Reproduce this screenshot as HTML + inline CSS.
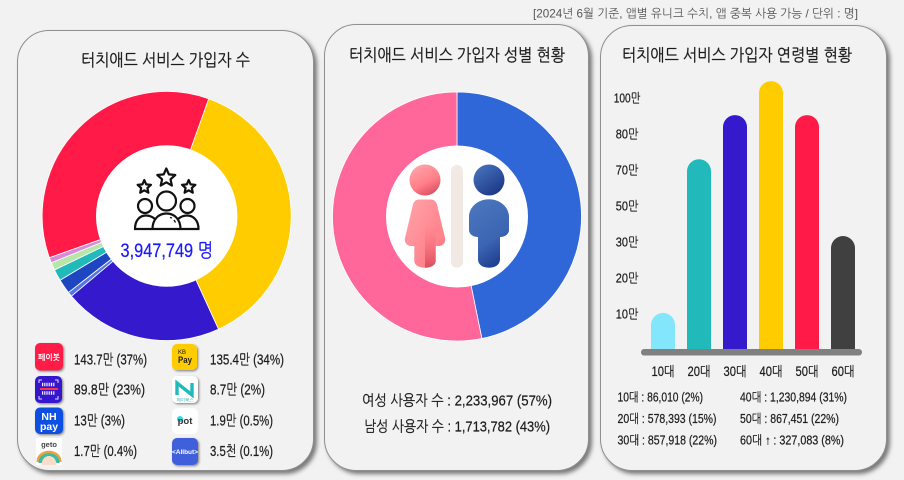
<!DOCTYPE html>
<html lang="ko">
<head>
<meta charset="utf-8">
<title>터치애드 서비스 가입자 현황</title>
<style>
html,body{margin:0;padding:0;background:#f2f2f2;}
#stage{position:relative;width:904px;height:480px;overflow:hidden;background:#f2f2f2;}
.card{position:absolute;box-sizing:border-box;background:#f2f2f2;border:1px solid #8f8f8f;border-radius:32px;box-shadow:3px 3px 4px rgba(0,0,0,.5);}
#art{position:absolute;left:0;top:0;}
text{font-family:"Liberation Sans","NanumGothic","Noto Sans CJK KR",sans-serif;fill:#1c1c1c;}
.heavy{stroke:#1c1c1c;stroke-width:.28px;}
.heavy text{stroke:#1c1c1c;stroke-width:.22px;}
</style>
</head>
<body>
<div id="stage">
  <div class="card" style="left:17px;top:30px;width:297px;height:441px"></div>
  <div class="card" style="left:324px;top:24px;width:265px;height:447px"></div>
  <div class="card" style="left:600px;top:25px;width:287px;height:446px"></div>

  <svg id="art" width="904" height="480" viewBox="0 0 904 480" xmlns="http://www.w3.org/2000/svg">
    <defs>
      <filter id="tileShadow" x="-20%" y="-20%" width="150%" height="150%"><feDropShadow dx="1.2" dy="1.2" stdDeviation="1" flood-color="#000" flood-opacity=".45"/></filter>
      <linearGradient id="fHead" x1="0.2" y1="0" x2="0.7" y2="1"><stop offset="0" stop-color="#ffa6ab"/><stop offset=".6" stop-color="#ff7f88"/><stop offset="1" stop-color="#d9505f"/></linearGradient>
      <linearGradient id="fBody" x1="0" y1="0" x2="1" y2="1"><stop offset="0" stop-color="#ffa4aa"/><stop offset="1" stop-color="#ff7480"/></linearGradient>
      <linearGradient id="fLeg" x1="0" y1="0" x2="0" y2="1"><stop offset="0" stop-color="#ff7480" stop-opacity="0"/><stop offset="1" stop-color="#d94f5f"/></linearGradient>
      <linearGradient id="mHead" x1="0.1" y1="0" x2="0.8" y2="1"><stop offset="0" stop-color="#4a76bd"/><stop offset="1" stop-color="#1a3586"/></linearGradient>
      <linearGradient id="mBody" x1="0.3" y1="0" x2="0.7" y2="1"><stop offset="0" stop-color="#4a76bd"/><stop offset=".6" stop-color="#3c65b2"/><stop offset="1" stop-color="#1c3a8d"/></linearGradient>
    </defs>

    <text x="533" y="17.5" font-size="12" style="fill:#555" textLength="325" lengthAdjust="spacingAndGlyphs">[2024년 6월 기준,  앱별 유니크 수치, 앱  중복 사용 가능  /  단위 : 명]</text>
    <text class="heavy" x="81" y="66" font-size="17" textLength="169" lengthAdjust="spacingAndGlyphs">터치애드 서비스 가입자 수</text>
    <text class="heavy" x="349" y="61" font-size="17" textLength="216" lengthAdjust="spacingAndGlyphs">터치애드 서비스 가입자 성별 현황</text>
    <text class="heavy" x="622" y="61" font-size="17" textLength="230" lengthAdjust="spacingAndGlyphs">터치애드 서비스 가입자 연령별 현황</text>

    <g id="donutApps"></g>
    <circle cx="166.7" cy="216" r="70.7" fill="#fff"/>
    <g fill="none" stroke="#111" stroke-width="2.2" stroke-linejoin="round">
      <polygon points="166.3,168.5 168.9,174.4 175.3,175 170.5,179.3 171.9,185.6 166.3,182.3 160.7,185.6 162.1,179.3 157.3,175 163.7,174.4"/>
      <polygon points="144.3,180 146.2,184.4 151,184.8 147.4,188 148.4,192.7 144.3,190.3 140.2,192.7 141.2,188 137.6,184.8 142.4,184.4"/>
      <polygon points="188.7,180 190.6,184.4 195.4,184.8 191.8,188 192.8,192.7 188.7,190.3 184.6,192.7 185.6,188 182,184.8 186.8,184.4"/>
      <circle cx="166.5" cy="201" r="9.5"/>
      <circle cx="145" cy="206" r="7"/>
      <circle cx="187.5" cy="206" r="7"/>
      <path d="M134 229H199.5"/>
      <path d="M135 229C135 220 140 215.5 146 215.5C149.5 215.5 152 216.5 155 219"/>
      <path d="M198.5 229C198.5 220 193 215.5 187 215.5C183.5 215.5 181 216.5 178 219"/>
      <path d="M152.5 229C152.5 219.5 158.5 213.5 166.5 213.5C174.5 213.5 180.5 219.5 180.5 229"/>
      <path d="M170 217.5L172 218M174 220L175.5 222.5" stroke-width="1.3"/>
    </g>
    <text x="120.5" y="257" font-size="19" style="fill:#1a1aff;stroke:#1a1aff;stroke-width:.25px" textLength="92.5" lengthAdjust="spacingAndGlyphs">3,947,749 명</text>

    <!-- App tiles -->
    <g>
      <rect x="35" y="343" width="28" height="27.5" rx="5" fill="#ff1a47" filter="url(#tileShadow)"/>
      <text x="49" y="360" font-size="8" font-weight="bold" text-anchor="middle" style="fill:#fff" textLength="22" lengthAdjust="spacingAndGlyphs">페이봇</text>
    </g>
    <g>
      <rect x="172" y="344" width="25" height="26" rx="5" fill="#ffcc00" filter="url(#tileShadow)"/>
      <text x="178" y="354" font-size="6">KB</text>
      <text x="178" y="363" font-size="9" font-weight="bold" textLength="14" lengthAdjust="spacingAndGlyphs">Pay</text>
    </g>
    <g>
      <rect x="35" y="376" width="27" height="27" rx="5" fill="#3519cc" filter="url(#tileShadow)"/>
      <path d="M39 383v-3h3M58 383v-3h-3M39 396v3h3M58 396v3h-3" stroke="#dcd8ff" stroke-width="1" fill="none"/>
      <path d="M42 384.500h13M42 393h13" stroke="#f0eeff" stroke-width="3.500" stroke-dasharray="1 .8" fill="none"/>
      <rect x="40" y="388" width="18" height="2" fill="#ff3344"/>
    </g>
    <g>
      <rect x="172" y="376" width="26" height="27" rx="5" fill="#fff" filter="url(#tileShadow)"/>
      <path d="M177 395V383L192 395V383" fill="none" stroke="#22b9bb" stroke-width="3.400"/>
      <text x="185" y="401.500" font-size="4.500" text-anchor="middle" style="fill:#22a9bb">페이북스</text>
    </g>
    <g>
      <rect x="35" y="407.5" width="28" height="26.5" rx="5" fill="#0b4fe0" filter="url(#tileShadow)"/>
      <text x="49" y="420" font-size="10.5" font-weight="bold" text-anchor="middle" style="fill:#fff">NH</text>
      <text x="49" y="430" font-size="10.5" font-weight="bold" text-anchor="middle" style="fill:#fff">pay</text>
    </g>
    <g>
      <rect x="172" y="408" width="26" height="26" rx="6" fill="#fff"/>
      <circle cx="180" cy="419" r="3" fill="#35d5e5"/>
      <text x="185" y="424" font-size="9.5" font-weight="bold" text-anchor="middle" style="fill:#333">pot</text>
    </g>
    <g>
      <rect x="36" y="438" width="26" height="27" fill="#fff"/>
      <text x="49" y="447" font-size="7.5" font-weight="bold" text-anchor="middle" style="fill:#444">geto</text>
      <path d="M36.5 462C36.500 447 61.500 447 61.500 462Z" fill="#e8a33d"/>
      <path d="M38.500 463C38.500 450 59.500 450 59.500 463Z" fill="#3fb8a8"/>
      <path d="M41.500 465C41.500 453 56.500 453 56.500 465Z" fill="#fbdcc6"/>
    </g>
    <g>
      <rect x="172" y="438" width="26" height="27" rx="5" fill="#3f5fdb" filter="url(#tileShadow)"/>
      <text x="185" y="454" font-size="6.5" font-weight="bold" text-anchor="middle" style="fill:#fff">&lt;Allbut&gt;</text>
    </g>

    <g class="heavy" font-size="14.5">
      <text x="74" y="364.5" textLength="73" lengthAdjust="spacingAndGlyphs">143.7만 (37%)</text>
      <text x="210" y="364.5" textLength="74" lengthAdjust="spacingAndGlyphs">135.4만 (34%)</text>
      <text x="74" y="394.5" textLength="71" lengthAdjust="spacingAndGlyphs">89.8만 (23%)</text>
      <text x="210" y="394.5" textLength="55" lengthAdjust="spacingAndGlyphs">8.7만 (2%)</text>
      <text x="74" y="425.5" textLength="51" lengthAdjust="spacingAndGlyphs">13만 (3%)</text>
      <text x="210" y="425.5" textLength="63" lengthAdjust="spacingAndGlyphs">1.9만 (0.5%)</text>
      <text x="74" y="456" textLength="63" lengthAdjust="spacingAndGlyphs">1.7만 (0.4%)</text>
      <text x="210" y="456" textLength="63" lengthAdjust="spacingAndGlyphs">3.5천 (0.1%)</text>
    </g>

    <g id="donutGender"></g>
    <circle cx="457" cy="216.5" r="71" fill="#fff"/>
    <g>
      <circle cx="425" cy="180" r="15.5" fill="url(#fHead)"/>
      <path d="M419 199.5H431C434 199.5 436 201.5 437 204.5L445 238C446 241 444 245 440 246L435.7 246V261C435.7 265 431 267.7 425 267.7C419 267.7 414.3 265 414.3 261V246L410 246C406 245 404 241 405 238L413 204.5C414 201.5 416 199.5 419 199.5Z" fill="url(#fBody)"/>
      <path d="M425 225H435.7V261C435.7 265 431 267.7 425 267.7Z" fill="url(#fLeg)"/>
      <rect x="451" y="165" width="12" height="102.7" rx="6" fill="#f3e9e4"/>
      <circle cx="489" cy="180" r="15.5" fill="url(#mHead)"/>
      <path d="M489 199.3C500 199.3 509 207 509 217V230C509 234 505 237 500 237V259C500 265 495 267.7 489 267.7C483 267.7 478 265 478 259V237C473 237 469 234 469 230V217C469 207 478 199.3 489 199.3Z" fill="url(#mBody)"/>
    </g>
    <g class="heavy" font-size="15">
      <text x="362" y="405.5" textLength="190" lengthAdjust="spacingAndGlyphs">여성 사용자 수 : 2,233,967 (57%)</text>
      <text x="364" y="431.5" textLength="186" lengthAdjust="spacingAndGlyphs">남성 사용자 수 : 1,713,782 (43%)</text>
    </g>

    <g id="barChart" class="heavy"></g>

    <g class="heavy" font-size="12.5">
      <text x="617.5" y="401.5" textLength="85.5" lengthAdjust="spacingAndGlyphs">10대 : 86,010 (2%)</text>
      <text x="617.5" y="423" textLength="99" lengthAdjust="spacingAndGlyphs">20대 : 578,393 (15%)</text>
      <text x="617.5" y="444.5" textLength="99.5" lengthAdjust="spacingAndGlyphs">30대 : 857,918 (22%)</text>
      <text x="740" y="401.5" textLength="107" lengthAdjust="spacingAndGlyphs">40대 : 1,230,894 (31%)</text>
      <text x="740" y="423" textLength="99" lengthAdjust="spacingAndGlyphs">50대 : 867,451 (22%)</text>
      <text x="740" y="444.5" textLength="104" lengthAdjust="spacingAndGlyphs">60대 ↑ : 327,083 (8%)</text>
    </g>
  </svg>
</div>

<script>
// Donut 1: slice shares (%), clockwise from the yellow slice
const appSlices = ['yellow', 'purple', 'light-blue', 'blue', 'teal', 'green', 'pink', 'red'];
const appShares = [37.7, 20.7, 0.6, 1.9, 1.5, 1.0, 0.7, 35.9];
const appColors = ['#ffcc00', '#3519cc', '#5577e0', '#1e46c0', '#22b9bb', '#b8e6a8', '#d98ad8', '#ff1a47'];

// Donut 2: gender shares (%)
const genderSlices = ['male', 'female'];
const genderShares = [46.8, 53.2];
const genderColors = ['#2f67d8', '#ff6699'];

// Bars: age groups and heights read against the (uneven) axis, in units of 만
const ageLabels = ['10대', '20대', '30대', '40대', '50대', '60대'];
const ageValues = [10.3, 73, 90.5, 109.4, 90.5, 33.3];
const ageColors = ['#84e6fa', '#22b9bb', '#3519cc', '#ffcc00', '#ff1a47', '#404040'];
const tickValues = [10, 20, 30, 50, 70, 80, 100];
const tickLabels = ['10만', '20만', '30만', '50만', '70만', '80만', '100만'];

const SVGNS = 'http://www.w3.org/2000/svg';

function drawDonut(groupId, shares, colors, names, cx, cy, rOuter, rInner, startDeg) {
  const group = document.getElementById(groupId);
  const total = shares.reduce((a, b) => a + b, 0);
  let angle = startDeg;
  const pt = (r, deg) => {
    const rad = deg * Math.PI / 180;
    return (cx + r * Math.sin(rad)).toFixed(2) + ' ' + (cy - r * Math.cos(rad)).toFixed(2);
  };
  shares.forEach((value, i) => {
    const sweep = value / total * 360;
    const end = angle + sweep;
    const large = sweep > 180 ? 1 : 0;
    const slice = document.createElementNS(SVGNS, 'path');
    slice.setAttribute('d', 'M' + pt(rOuter, angle) + 'A' + rOuter + ' ' + rOuter + ' 0 ' + large + ' 1 ' + pt(rOuter, end) +
      'L' + pt(rInner, end) + 'A' + rInner + ' ' + rInner + ' 0 ' + large + ' 0 ' + pt(rInner, angle) + 'Z');
    slice.setAttribute('fill', colors[i]);
    slice.setAttribute('stroke', '#ffffff');
    slice.setAttribute('stroke-width', '0.8');
    
    
    group.appendChild(slice);
    angle = end;
  });
}
drawDonut('donutApps', appShares, appColors, appSlices, 166.7, 216, 124.5, 70, 19.7);
drawDonut('donutGender', genderShares, genderColors, genderSlices, 457, 216.5, 124.5, 70, 0);

// Uneven y axis: ticks are evenly spaced although their values are not
const axisBaseY = 350;
const axisStep = 36;
function yScale(value) {
  const knots = [0].concat(tickValues);
  let i = 1;
  while (i < knots.length - 1 && value > knots[i]) i++;
  const frac = (value - knots[i - 1]) / (knots[i] - knots[i - 1]);
  return axisBaseY - axisStep * (i - 1 + frac);
}
const barStart = 651;
const barPitch = 36;
const barWidth = 24;
const barBottom = 350;
const chart = document.getElementById('barChart');

tickLabels.forEach((label, i) => {
  const t = document.createElementNS(SVGNS, 'text');
  t.setAttribute('x', '627');
  t.setAttribute('y', (yScale(tickValues[i]) + 4.5).toFixed(1));
  t.setAttribute('font-size', '13');
  t.setAttribute('text-anchor', 'middle');
  t.setAttribute('textLength', label.length > 3 ? '26.5' : '22.5');
  t.setAttribute('lengthAdjust', 'spacingAndGlyphs');
  
  
  t.textContent = label;
  chart.appendChild(t);
});

ageValues.forEach((value, i) => {
  const x = barStart + i * barPitch;
  const top = yScale(value);
  const r = barWidth / 2;
  const bar = document.createElementNS(SVGNS, 'path');
  bar.setAttribute('d', 'M' + x + ' ' + barBottom + 'V' + (top + r) + 'A' + r + ' ' + r + ' 0 0 1 ' + (x + barWidth) + ' ' + (top + r) + 'V' + barBottom + 'Z');
  bar.setAttribute('fill', ageColors[i]);
  bar.setAttribute('stroke', 'none');
  
  
  chart.appendChild(bar);

  const t = document.createElementNS(SVGNS, 'text');
  t.setAttribute('x', x + barWidth / 2);
  t.setAttribute('y', '376');
  t.setAttribute('font-size', '13.5');
  t.setAttribute('text-anchor', 'middle');
  t.setAttribute('textLength', '23');
  t.setAttribute('lengthAdjust', 'spacingAndGlyphs');
  
  
  t.textContent = ageLabels[i];
  chart.appendChild(t);
});

const baseline = document.createElementNS(SVGNS, 'rect');
baseline.setAttribute('x', '641');
baseline.setAttribute('y', '349');
baseline.setAttribute('width', '221');
baseline.setAttribute('height', '6.5');
baseline.setAttribute('rx', '3.2');
baseline.setAttribute('fill', '#808080');
baseline.setAttribute('stroke', 'none');


chart.appendChild(baseline);
</script>
</body>
</html>
